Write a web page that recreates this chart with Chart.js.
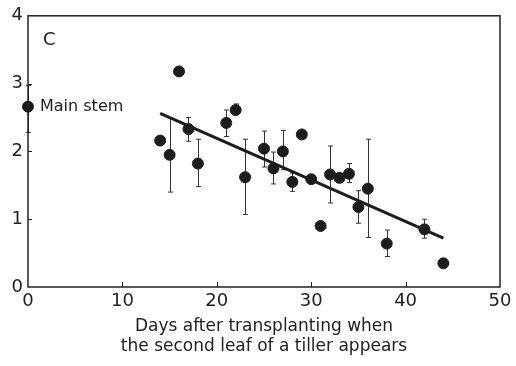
<!DOCTYPE html>
<html>
<head>
<meta charset="utf-8">
<script src="https://cdn.jsdelivr.net/npm/chart.js@4"></script>
<style>
  body { margin: 0; background: #fff; }
</style>
</head>
<body>
<canvas id="myChart" width="516" height="366"></canvas>
<script>
// days after transplanting (0 = main stem)
var days = [0, 14, 15, 16, 17, 18, 21, 22, 23, 25, 26, 27, 28, 29, 30, 31, 32, 33, 34, 35, 36, 38, 42, 44];
var values = [2.66, 2.16, 1.95, 3.18, 2.33, 1.82, 2.42, 2.61, 1.62, 2.04, 1.75, 2.00, 1.55, 2.25, 1.59, 0.90, 1.66, 1.61, 1.67, 1.18, 1.45, 0.64, 0.85, 0.35];
// error bars, null = none drawn
var errLow = [2.28, null, 1.40, null, 2.15, 1.48, 2.22, 2.55, 1.07, 1.77, 1.52, 1.73, 1.41, null, null, null, 1.24, null, 1.54, 0.94, 0.73, 0.45, 0.72, null];
var errHigh = [2.97, null, 2.49, null, 2.50, 2.18, 2.61, 2.70, 2.18, 2.30, 1.99, 2.31, 1.68, null, null, null, 2.08, null, 1.82, 1.42, 2.18, 0.84, 1.00, null];
// regression line ends
var fitX = [14, 44];
var fitY = [2.56, 0.72];
var xTicks = [0, 10, 20, 30, 40, 50];
var yTicks = [0, 1, 2, 3, 4];

var points = [];
for (var i = 0; i < days.length; i++) {
    points.push({ x: days[i], y: values[i] });
}
var fitLine = [];
for (var j = 0; j < fitX.length; j++) {
    fitLine.push({ x: fitX[j], y: fitY[j] });
}

var FONT = "'DejaVu Sans', sans-serif";

// error bars, frame, inner ticks and the little labels
var extras = {
    id: 'extras',
    beforeDatasetsDraw: function (chart) {
        var ctx = chart.ctx;
        var xs = chart.scales.x, ys = chart.scales.y;
        ctx.save();
        ctx.strokeStyle = '#333';
        ctx.lineWidth = 1;
        for (var i = 0; i < days.length; i++) {
            if (errLow[i] == null) continue;
            var px = Math.round(xs.getPixelForValue(days[i])) + 0.5;
            var y1 = ys.getPixelForValue(errLow[i]);
            var y2 = ys.getPixelForValue(errHigh[i]);
            ctx.beginPath();
            ctx.moveTo(px, y1); ctx.lineTo(px, y2);
            ctx.moveTo(px - 2.5, y1); ctx.lineTo(px + 2.5, y1);
            ctx.moveTo(px - 2.5, y2); ctx.lineTo(px + 2.5, y2);
            ctx.stroke();
        }
        ctx.restore();
    },
    afterDraw: function (chart) {
        var ctx = chart.ctx;
        var a = chart.chartArea;
        var xs = chart.scales.x, ys = chart.scales.y;
        ctx.save();
        ctx.strokeStyle = '#222';
        ctx.lineWidth = 1.5;
        ctx.strokeRect(a.left, a.top, a.right - a.left, a.bottom - a.top);
        ctx.lineWidth = 1;
        ctx.beginPath();
        for (var i = 1; i < xTicks.length - 1; i++) {
            var px = Math.round(xs.getPixelForValue(xTicks[i])) + 0.5;
            ctx.moveTo(px, a.bottom); ctx.lineTo(px, a.bottom - 5);
        }
        for (var k = 1; k < yTicks.length - 1; k++) {
            var py = Math.round(ys.getPixelForValue(yTicks[k])) + 0.5;
            ctx.moveTo(a.left, py); ctx.lineTo(a.left + 4, py);
        }
        ctx.stroke();

        ctx.fillStyle = '#222';
        ctx.textBaseline = 'middle';
        ctx.font = '18px ' + FONT;
        ctx.fillText('C', a.left + 15, a.top + 25);
        ctx.font = '16px ' + FONT;
        ctx.fillText('Main stem', xs.getPixelForValue(days[0]) + 12, ys.getPixelForValue(values[0]));
        ctx.restore();
    }
};

var myChart = new Chart('myChart', {
    type: 'scatter',
    data: {
        datasets: [
            {
                data: points,
                backgroundColor: '#1c1c1c',
                borderColor: '#1c1c1c',
                pointRadius: 5.5,
                clip: false
            },
            {
                type: 'line',
                data: fitLine,
                borderColor: '#1c1c1c',
                borderWidth: 3,
                pointRadius: 0,
                fill: false
            }
        ]
    },
    options: {
        responsive: false,
        animation: false,
        layout: { padding: { top: 13, right: 16, left: 0, bottom: 0 } },
        plugins: {
            legend: { display: false },
            tooltip: { enabled: false }
        },
        scales: {
            x: {
                type: 'linear',
                min: 0, max: 50,
                grid: { display: false, drawTicks: false },
                border: { display: false },
                afterBuildTicks: function (s) { s.ticks = xTicks.map(function (v) { return { value: v }; }); },
                afterFit: function (s) { s.height = 79; },
                ticks: { color: '#222', padding: 4, maxRotation: 0, font: { family: FONT, size: 18 } },
                title: {
                    display: true,
                    text: ['Days after transplanting when', 'the second leaf of a tiller appears'],
                    color: '#222',
                    padding: { top: 8, bottom: 9 },
                    font: { family: FONT, size: 17, lineHeight: 1.18 }
                }
            },
            y: {
                min: 0, max: 4,
                grid: { display: false, drawTicks: false },
                border: { display: false },
                afterBuildTicks: function (s) { s.ticks = yTicks.map(function (v) { return { value: v }; }); },
                afterFit: function (s) { s.width = 28; },
                ticks: { color: '#222', padding: 5, font: { family: FONT, size: 18 } }
            }
        }
    },
    plugins: [extras]
});
</script>
</body>
</html>
